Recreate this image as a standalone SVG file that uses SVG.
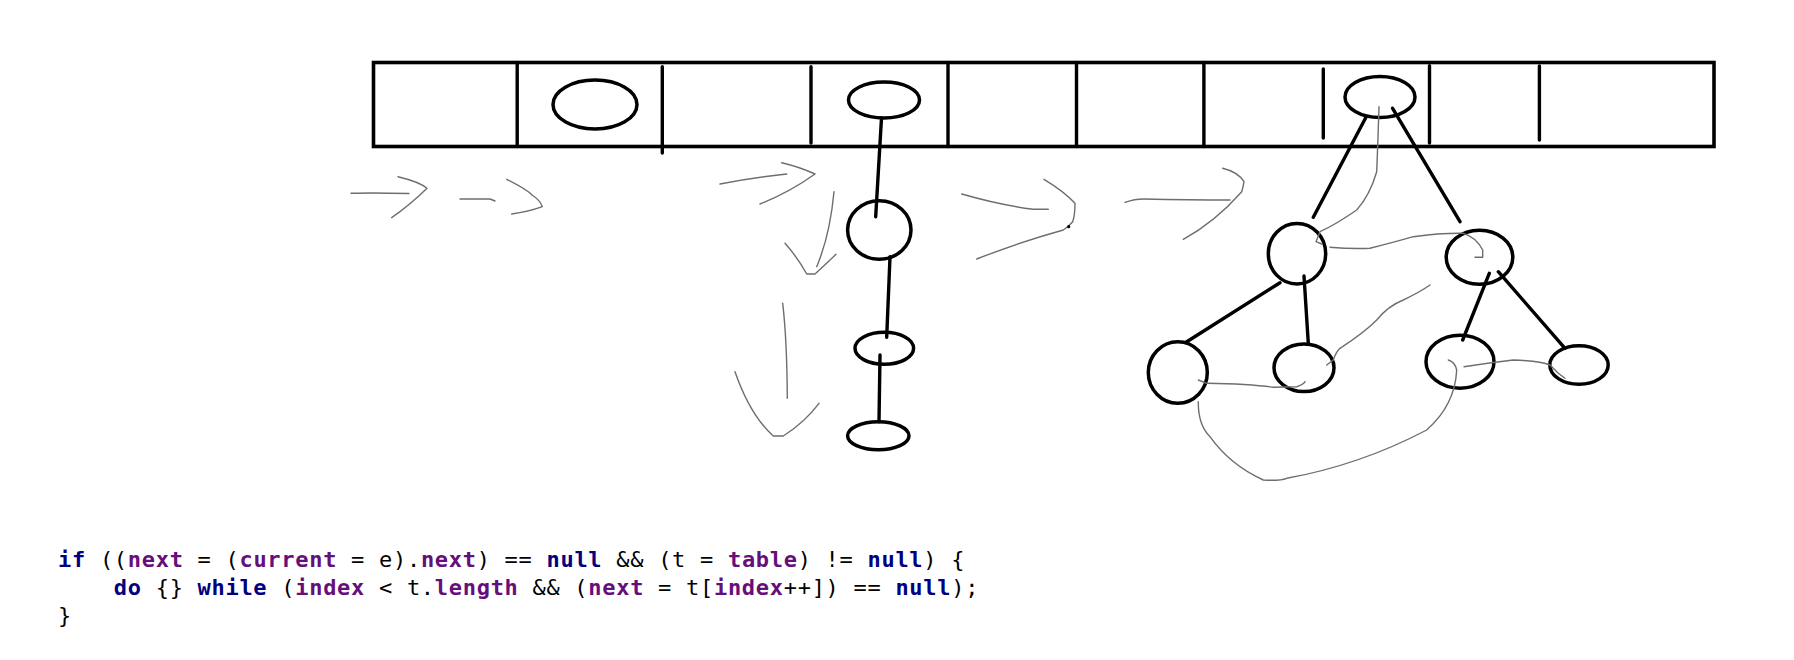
<svg xmlns="http://www.w3.org/2000/svg" width="1794" height="660" viewBox="0 0 1794 660">
  <style>
    .ink{fill:none;stroke:#000;stroke-width:3.4;stroke-linecap:round}
    .node{fill:none;stroke:#000;stroke-width:3.5}
    .pen{fill:none;stroke:#6e6e6e;stroke-width:1.4;stroke-linecap:round;stroke-linejoin:round}
    .code{font-family:"DejaVu Sans Mono","Liberation Mono",monospace;font-size:22px;letter-spacing:0.71px;fill:#000}
    .kw{fill:#000080;font-weight:bold}
    .fd{fill:#660E7A;font-weight:bold}
  </style>
  <rect width="1794" height="660" fill="#fff"/>

  <!-- hash table array with bucket separators -->
  <g id="table">
    <rect x="373.5" y="62.5" width="1340.5" height="84" fill="none" stroke="#000" stroke-width="3.6"/>
    <path class="ink" d="M517.2,62.5V146.5 M662.3,66.7V153 M811,66.7V143 M948,62.5V146.5 M1076.5,62.5V146.5 M1203.9,62.5V146.5 M1323.3,69V138 M1429.5,65.7V143 M1539.4,66V140"/>
  </g>

  <!-- bucket entries -->
  <g id="bucket-1"><ellipse class="node" cx="595" cy="104.5" rx="42" ry="24.5"/></g>
  <g id="bucket-2"><ellipse class="node" cx="884" cy="100" rx="35.5" ry="18"/></g>
  <g id="bucket-tree-root"><ellipse class="node" cx="1380" cy="97" rx="35" ry="20.5"/></g>

  <!-- linked list chain -->
  <g id="chain-1"><ellipse class="node" cx="879.3" cy="230" rx="31.7" ry="29.3"/></g>
  <g id="chain-2"><ellipse class="node" cx="884.3" cy="348.3" rx="29.3" ry="16"/></g>
  <g id="chain-3"><ellipse class="node" cx="878.3" cy="435.7" rx="30.7" ry="14"/></g>

  <!-- red-black tree bin -->
  <g id="tree-l"><ellipse class="node" cx="1297" cy="253.7" rx="28.7" ry="30.3"/></g>
  <g id="tree-r"><ellipse class="node" cx="1479.5" cy="257.3" rx="33.3" ry="27"/></g>
  <g id="tree-ll"><ellipse class="node" cx="1177.8" cy="372.5" rx="29.5" ry="30.8"/></g>
  <g id="tree-lr"><ellipse class="node" cx="1304" cy="367.8" rx="30" ry="23.8"/></g>
  <g id="tree-rl"><ellipse class="node" cx="1460" cy="361.7" rx="34" ry="26.5"/></g>
  <g id="tree-rr"><ellipse class="node" cx="1579" cy="365" rx="29.2" ry="19.3"/></g>

  <g id="connectors">
    <!-- structural links -->
    <path class="ink" d="M881.5,118L875.7,216.7 M890,256.7L886.7,337.3 M880,355L879,421.7"/>
    <path class="ink" d="M1365.7,117.7L1313.3,217.3 M1392.6,108.3L1460,221.7 M1280,282.7L1186,342.3 M1304,276L1308.3,343.3 M1489.3,273.3L1462.7,340 M1498.3,271.7L1565,348.3"/>

    <!-- iteration order strokes -->
    <path class="pen" d="M351,193.3C370,192.5 390,193 409,193.5 M398,176.7Q420,182 427,188.3Q410,205 391.7,217.7"/>
    <path class="pen" d="M460,199L490,199L495,201 M506.7,179.3Q528,190 532,195Q540,200 542.3,206.7Q528,212 511.7,214"/>
    <path class="pen" d="M720,184Q750,178 786.7,174 M781.7,162.7Q800,167 815,174Q790,192 760,204"/>
    <path class="pen" d="M834,191.7Q830,235 816.7,266.7 M785,243.3Q798,258 806.7,274L815,274Q825,265 836,254.3"/>
    <path class="pen" d="M782.7,303.3Q787,340 787.3,398.3 M735,371.7Q750,415 773.3,436L783.3,436Q805,422 819,403.3"/>
    <path class="pen" d="M961.7,194Q1000,205 1033.3,209.3L1048.3,209.3 M1044,179.3Q1065,192 1075,203.3Q1075,215 1072.7,221.7Q1068,227 1063.3,230Q1020,242 976.7,259"/>
    <circle cx="1068.7" cy="226.7" r="1.6" fill="#000"/>
    <path class="pen" d="M1125,202.3Q1135,199 1143.3,199Q1190,200 1230,200 M1222.7,168.3Q1238,172 1244,181.7Q1243,188 1241.7,191.7Q1215,222 1183.3,239.3"/>

    <!-- tree traversal strokes -->
    <path class="pen" d="M1379,106.7Q1378,140 1376.7,171.7Q1370,195 1356.7,210Q1335,225 1320,231.7L1316,241.7L1321.7,244"/>
    <path class="pen" d="M1330,247.3Q1350,249 1370,248.3Q1395,242 1413.3,236.7Q1440,233 1463.3,233.3Q1476,237 1482.7,250L1482.7,257.3L1475,257.3"/>
    <path class="pen" d="M1326.7,365L1333.3,360Q1336,352 1340,348.3Q1365,332 1376.7,320Q1388,306 1403.3,300Q1420,292 1430,285"/>
    <path class="pen" d="M1198.3,380L1206.7,383.3Q1250,384 1273.3,387.3L1296.7,386.7Q1303,385 1305,381.7"/>
    <path class="pen" d="M1198.3,401.7Q1198,425 1210,436.7Q1230,465 1263.3,480Q1280,481 1286.7,478.3Q1360,465 1426.7,430Q1455,405 1456.7,370Q1455,362 1448.3,360"/>
    <path class="pen" d="M1464,366.7Q1490,362.7 1513.3,360Q1540,361 1550,365L1558.3,373.3L1565,378.3"/>
  </g>

  <!-- source listing -->
  <g id="code">
    <text class="code" x="58" y="567"><tspan class="kw">if</tspan> ((<tspan class="fd">next</tspan> = (<tspan class="fd">current</tspan> = e).<tspan class="fd">next</tspan>) == <tspan class="kw">null</tspan> &amp;&amp; (t = <tspan class="fd">table</tspan>) != <tspan class="kw">null</tspan>) {</text>
    <text class="code" x="113.8" y="595"><tspan class="kw">do</tspan> {} <tspan class="kw">while</tspan> (<tspan class="fd">index</tspan> &lt; t.<tspan class="fd">length</tspan> &amp;&amp; (<tspan class="fd">next</tspan> = t[<tspan class="fd">index</tspan>++]) == <tspan class="kw">null</tspan>);</text>
    <text class="code" x="58" y="623">}</text>
  </g>
</svg>
